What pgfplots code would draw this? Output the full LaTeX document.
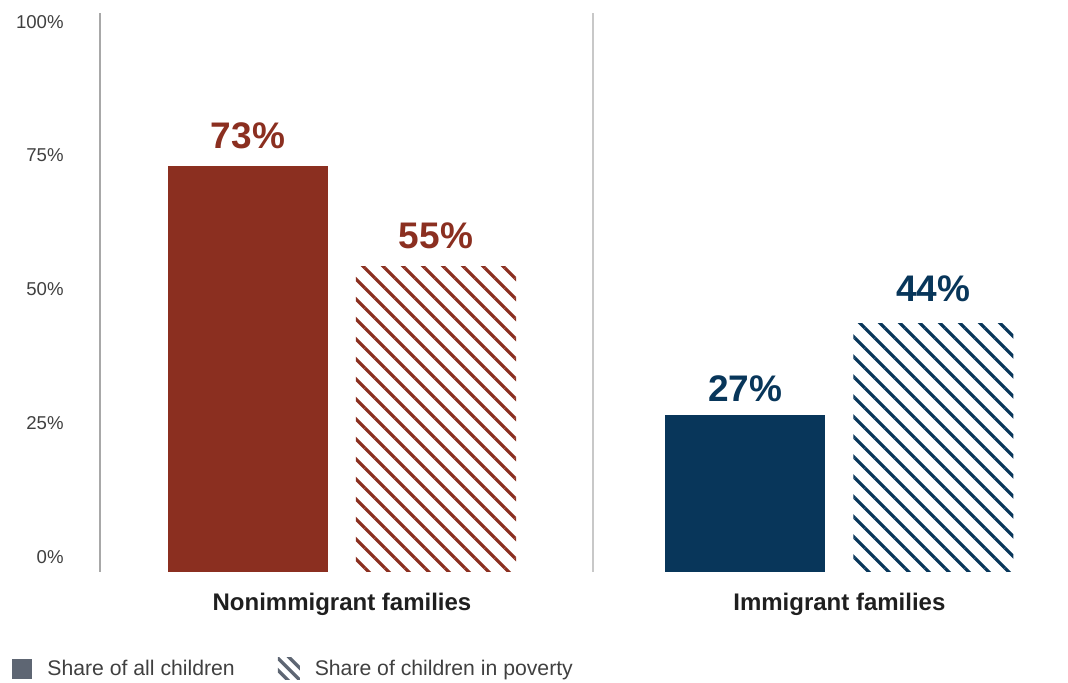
\documentclass[border=0pt]{standalone}
\usepackage{fontspec}
\setmainfont{Liberation Sans}
\usepackage{pgfplots}
\pgfplotsset{compat=1.18}
\usetikzlibrary{patterns.meta}
\definecolor{redc}{HTML}{8B2F20}
\definecolor{navyc}{HTML}{08365A}
\definecolor{legg}{HTML}{5E6673}
\definecolor{axg}{HTML}{A8A8A8}
\definecolor{sepg}{HTML}{C8C8C8}
\definecolor{tickc}{HTML}{404040}
\definecolor{catc}{HTML}{1F1F1F}
\pgfplotsset{
  barlab/.style={point meta=explicit,
    nodes near coords={\pgfmathprintnumber[assume math mode=true]{\pgfplotspointmeta}\%},
    nodes near coords style={anchor=south, inner sep=0pt, yshift=#1, font=\bfseries\fontsize{18.5}{20}\selectfont}},
}
\begin{document}
\begin{tikzpicture}
\useasboundingbox (-50pt,-55.5pt) rectangle (484pt,286pt);
\begin{axis}[
  at={(0,0)}, anchor=south west,
  scale only axis, width=484pt, height=279.5pt,
  xmin=-0.4865, xmax=1.4596, ymin=0, ymax=100.5,
  clip=false,
  axis lines*=left,
  x axis line style={draw=none},
  y axis line style={draw=axg, line width=0.75pt},
  major tick length=0pt,
  xtick={0,1}, xticklabels={Nonimmigrant families, Immigrant families},
  xticklabel style={anchor=north, inner sep=0pt, yshift=-10.5pt, font=\bfseries\fontsize{12}{14}\selectfont, text=catc},
  ytick={2.7,26.75,50.8,74.9,98.9},
  yticklabels={0\%,25\%,50\%,75\%,100\%},
  yticklabel style={anchor=east, inner sep=0pt, xshift=-18pt, font=\fontsize{9.3}{11}\selectfont, text=tickc},
  bar width=0.3217,
  legend style={at={(axis description cs:-0.0909,-0.1735)}, anchor=west, draw=none, fill=none, inner sep=0pt,
    font=\fontsize{10.6}{12}\selectfont, text=tickc, legend columns=2,
    /tikz/every odd column/.append style={column sep=5.5pt},
    /tikz/every even column/.append style={column sep=19.5pt}},
  legend cell align=left,
]
\addlegendimage{legend image code/.code={\fill[legg,draw=none] (0pt,-5pt) rectangle (10pt,5pt);}}
\addlegendentry{Share of all children}
\addlegendimage{draw=none, legend image code/.code={
  \begin{scope}
  \path[clip,draw=none,fill=none] (0pt,-5.5pt) rectangle (11pt,5.5pt);
  \foreach \s in {-6,0,6}{\path[draw=legg, line width=1.7pt] (\s pt-1pt,6.5pt) -- (\s pt+12pt,-6.5pt);}
  \end{scope}}}
\addlegendentry{Share of children in poverty}

\addplot[ybar, bar shift=0pt, fill=redc, draw=none, forget plot, barlab=8.5pt, nodes near coords style={text=redc}]
  coordinates {(-0.189,73) [73]};
\addplot[ybar, bar shift=0pt, draw=none, forget plot,
  pattern={Lines[angle=-45,distance=7.07pt,line width=1.6pt]}, pattern color=redc,
  barlab=8.5pt, nodes near coords style={text=redc}]
  coordinates {(0.189,55) [55]};
\addplot[ybar, bar shift=0pt, fill=navyc, draw=none, forget plot, barlab=6.5pt, nodes near coords style={text=navyc}]
  coordinates {(0.811,28.2) [27]};
\addplot[ybar, bar shift=0pt, draw=none, forget plot,
  pattern={Lines[angle=-45,distance=7.07pt,line width=1.6pt]}, pattern color=navyc,
  barlab=10.5pt, nodes near coords style={text=navyc}]
  coordinates {(1.189,44.7) [44]};
\addplot[draw=sepg, line width=0.75pt, forget plot] coordinates {(0.505,0) (0.505,100.5)};
\end{axis}
\end{tikzpicture}
\end{document}
